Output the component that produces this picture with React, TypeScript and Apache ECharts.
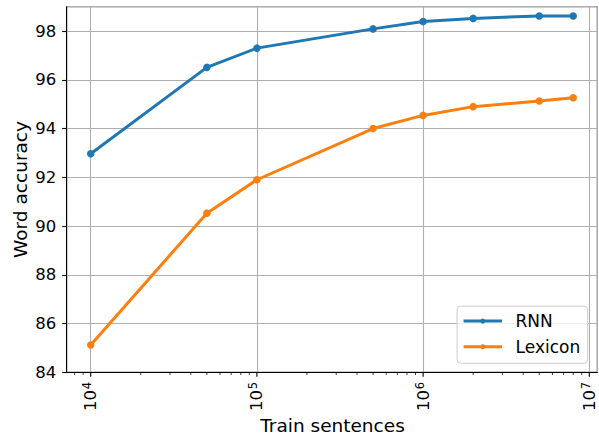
import React, { useEffect, useRef } from 'react';
import * as echarts from 'echarts';

const trainSentences = [1e4, 5e4, 1e5, 5e5, 1e6, 2e6, 5e6, 8e6];
const rnnAccuracy = [92.97, 96.51, 97.3, 98.09, 98.39, 98.52, 98.62, 98.62];
const lexiconAccuracy = [85.12, 90.53, 91.9, 94.0, 94.54, 94.9, 95.13, 95.26];
const majorTicks = [1e4, 1e5, 1e6, 1e7];
const minorTicks = [
  8e3, 9e3,
  2e4, 3e4, 4e4, 5e4, 6e4, 7e4, 8e4, 9e4,
  2e5, 3e5, 4e5, 5e5, 6e5, 7e5, 8e5, 9e5,
  2e6, 3e6, 4e6, 5e6, 6e6, 7e6, 8e6, 9e6,
];
const xMin = 7170;
const xMax = 1.117e7;
const yMin = 84;
const yMax = 99;
const yInterval = 2;

const FONT = 'DejaVu Sans';
const BLUE = '#1f77b4';
const ORANGE = '#ff7f0e';

function tickSeries(values: number[], len: number, width: number) {
  return {
    type: 'custom',
    silent: true,
    clip: false,
    z: 20,
    data: values.map((v) => [v, yMin]),
    encode: { x: 0, y: 1 },
    renderItem: (_params: any, api: any) => {
      const p = api.coord([api.value(0), api.value(1)]);
      return {
        type: 'line',
        shape: { x1: p[0], y1: p[1], x2: p[0], y2: p[1] + len },
        style: { stroke: '#000', lineWidth: width },
      };
    },
  };
}

export default function App() {
  const ref = useRef<HTMLDivElement>(null);
  useEffect(() => {
    document.body.style.margin = '0';
    const chart = echarts.init(ref.current!, null, { renderer: 'svg' });
    chart.setOption({
      animation: false,
      backgroundColor: '#fff',
      grid: {
        left: 66.7,
        top: 6.7,
        right: 1.7,
        bottom: 61.7,
        show: true,
        borderColor: '#000',
        borderWidth: 1,
        backgroundColor: 'transparent',
      },
      legend: {
        data: ['RNN', 'Lexicon'],
        orient: 'vertical',
        right: 11.3,
        bottom: 70.7,
        itemWidth: 38.4,
        itemHeight: 6.3,
        itemGap: 8.7,
        padding: [6.5, 7.5, 8, 5],
        backgroundColor: 'rgba(255,255,255,0.8)',
        borderColor: '#cccccc',
        borderWidth: 1,
        borderRadius: 4,
        lineStyle: { width: 3 },
        textStyle: { fontFamily: FONT, fontSize: 17, color: '#000', padding: [0, 0, 0, 8.6] },
      },
      xAxis: {
        type: 'log',
        logBase: 10,
        min: xMin,
        max: xMax,
        axisLine: { show: true, lineStyle: { color: '#000', width: 1 } },
        axisTick: { show: false },
        splitLine: { show: true, lineStyle: { color: '#b0b0b0', width: 1.1 } },
        axisLabel: {
          rotate: 90,
          margin: 9.5,
          showMinLabel: false,
          showMaxLabel: true,
          formatter: (v: number) => {
            const l = Math.log10(v);
            const e = Math.round(l);
            if (Math.abs(l - e) > 1e-6) return '';
            return `{b|10}{s|${e}}`;
          },
          rich: {
            b: { fontFamily: FONT, fontSize: 16.5, color: '#000', lineHeight: 19 },
            s: { fontFamily: FONT, fontSize: 11.5, color: '#000', verticalAlign: 'top', lineHeight: 19, padding: [0, 0, 6, 1] },
          },
        },
      },
      yAxis: {
        type: 'value',
        min: yMin,
        max: yMax,
        interval: yInterval,
        axisLine: { show: true, lineStyle: { color: '#000', width: 1 } },
        axisTick: { show: true, length: 4.5, lineStyle: { color: '#000', width: 1.1 } },
        splitLine: { show: true, lineStyle: { color: '#b0b0b0', width: 1.1 } },
        axisLabel: {
          fontFamily: FONT,
          fontSize: 16.5,
          color: '#000',
          margin: 10.5,
          showMaxLabel: false,
        },
      },
      graphic: [
        {
          type: 'text',
          x: 20,
          y: 189.5,
          rotation: Math.PI / 2,
          style: {
            text: 'Word accuracy',
            fontFamily: FONT,
            fontSize: 18.5,
            fill: '#000',
            textAlign: 'center',
            textVerticalAlign: 'middle',
          },
        },
        {
          type: 'text',
          x: 332.5,
          y: 425,
          style: {
            text: 'Train sentences',
            fontFamily: FONT,
            fontSize: 18.5,
            fill: '#000',
            textAlign: 'center',
            textVerticalAlign: 'middle',
          },
        },
      ],
      series: [
        {
          name: 'RNN',
          type: 'line',
          data: trainSentences.map((x, i) => [x, rnnAccuracy[i]]),
          color: BLUE,
          symbol: 'circle',
          symbolSize: 7.5,
          lineStyle: { width: 3, color: BLUE },
          itemStyle: { color: BLUE },
          z: 10,
        },
        {
          name: 'Lexicon',
          type: 'line',
          data: trainSentences.map((x, i) => [x, lexiconAccuracy[i]]),
          color: ORANGE,
          symbol: 'circle',
          symbolSize: 7.5,
          lineStyle: { width: 3, color: ORANGE },
          itemStyle: { color: ORANGE },
          z: 11,
        },
        tickSeries(majorTicks, 4.5, 1.1),
        tickSeries(minorTicks, 2.6, 0.8),
      ],
    });
    return () => chart.dispose();
  }, []);
  return <div ref={ref} style={{ width: 599, height: 434 }} />;
}
